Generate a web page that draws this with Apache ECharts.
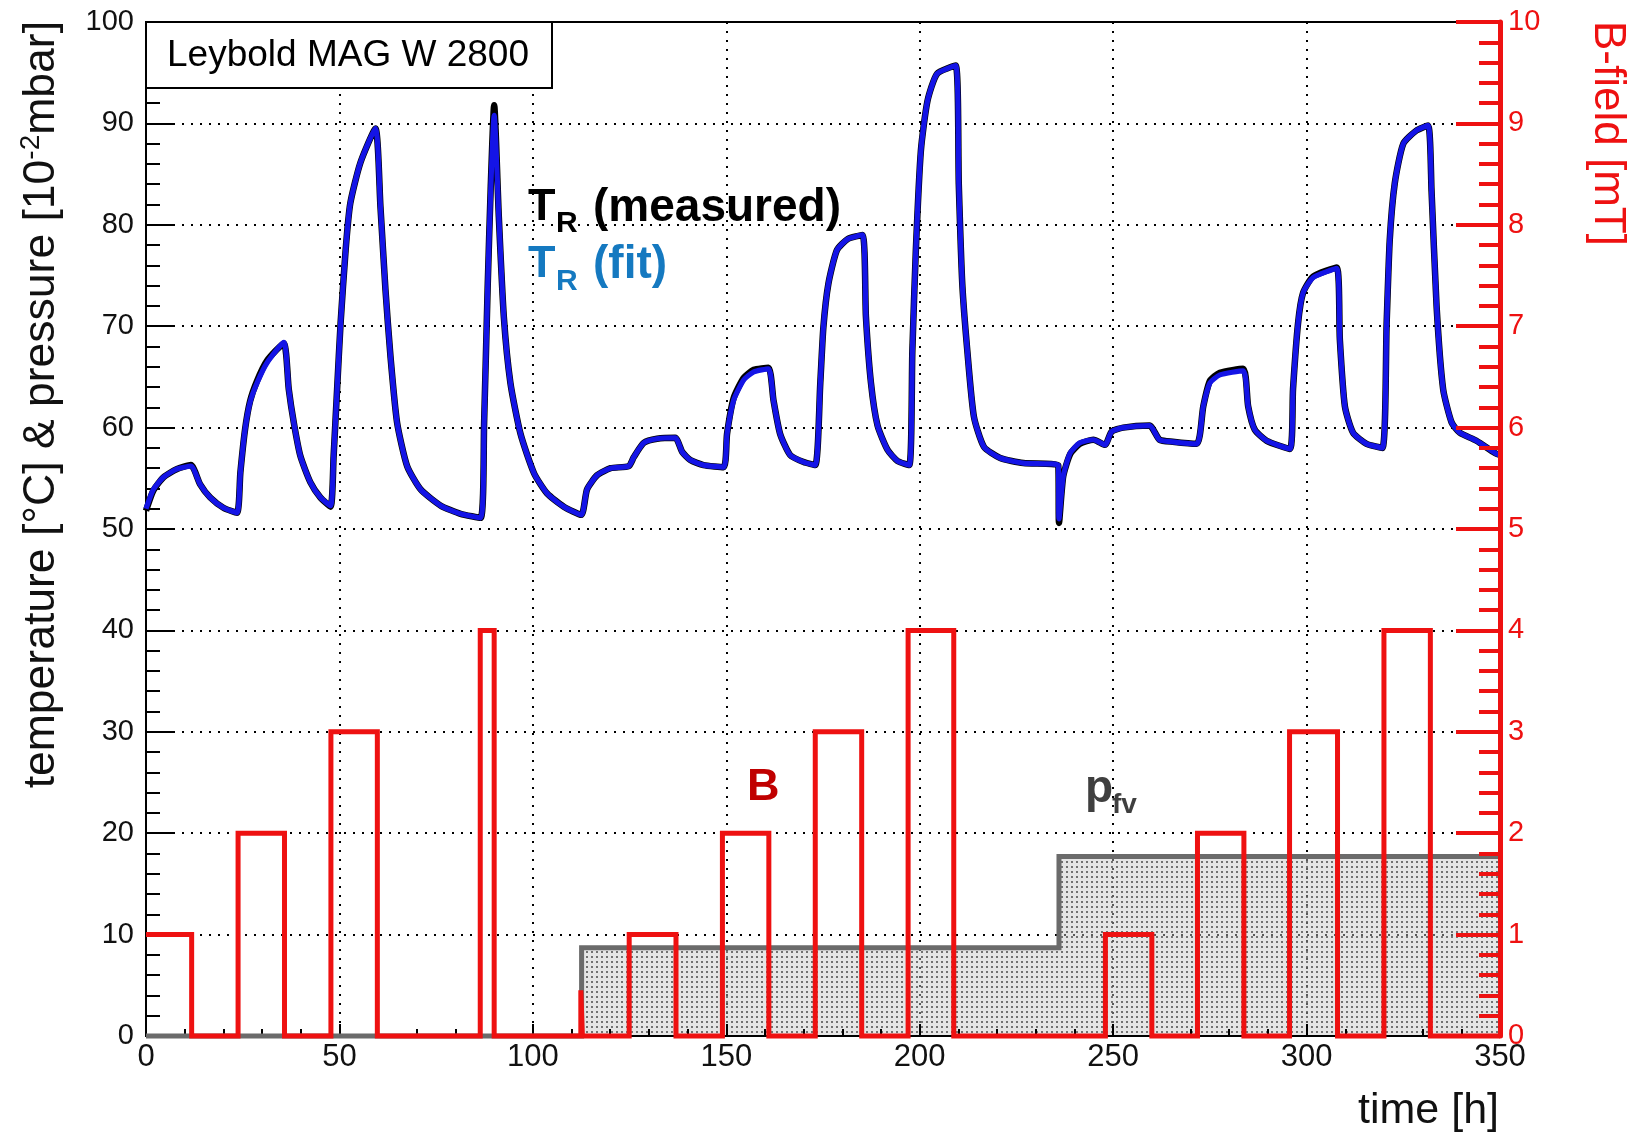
<!DOCTYPE html>
<html><head><meta charset="utf-8">
<script src="https://cdn.jsdelivr.net/npm/echarts@6/dist/echarts.min.js"></script>
<style>html,body{margin:0;padding:0;background:#fff}#c{width:1640px;height:1135px}</style>
</head><body><div id="c"></div>
<script>
// ---- data ----
const tempTime = [
  0, 1.9, 4.5, 7.9, 11.6, 14.0, 16.6, 20.0, 23.5, 24.4,
  25.6, 26.9, 28.7, 31.3, 35.6, 36.9, 38.2, 39.9, 42.5, 45.1,
  47.7, 48.5, 49.4, 50.3, 51.6, 52.8, 55.4, 59.3, 60.6, 61.9,
  63.2, 64.9, 67.5, 71.0, 76.2, 81.3, 86.5, 87.4, 88.3, 89.1,
  90.0, 91.2, 92.5, 94.2, 96.8, 100.3, 103.7, 108.0, 112.5, 114.0,
  116.6, 120.1, 124.8, 126.1, 128.7, 132.1, 136.8, 138.6, 140.7, 144.1,
  149.3, 150.2, 151.9, 154.5, 157.1, 160.9, 162.2, 163.9, 166.5, 170.0,
  173.0, 174.3, 175.1, 176.4, 178.6, 181.4, 185.2, 186.1, 187.4, 189.1,
  191.7, 194.3, 197.3, 198.1, 199.0, 200.3, 202.0, 204.5, 209.3, 210.1,
  211.0, 212.3, 214.0, 216.6, 220.8, 226.8, 235.8, 236.0, 237.1, 238.9,
  241.4, 244.9, 247.9, 249.6, 252.6, 259.4, 262.0, 265.4, 271.6, 273.3,
  275.0, 277.6, 283.6, 284.9, 286.6, 289.7, 295.7, 296.5, 297.8, 299.1,
  301.7, 307.8, 308.6, 309.9, 312.0, 315.5, 319.6, 320.7, 321.5, 322.8,
  325.0, 328.4, 331.4, 332.3, 333.6, 335.3, 337.5, 339.6, 343.9, 348.7,
  350.0];
const tempFit = [
  52.0, 53.9, 55.1, 55.9, 56.2, 54.4, 53.1, 52.1, 51.6, 55.6,
  59.8, 62.5, 64.4, 66.4, 68.4, 63.8, 60.5, 57.2, 54.6, 53.1,
  52.3, 57.2, 63.8, 70.3, 77.5, 82.1, 86.1, 89.5, 81.8, 73.6,
  67.0, 60.5, 56.2, 53.9, 52.3, 51.5, 51.1, 60.5, 73.6, 83.4,
  90.8, 80.8, 70.9, 64.4, 59.4, 55.5, 53.5, 52.2, 51.4, 53.9,
  55.3, 56.0, 56.2, 57.1, 58.5, 58.9, 59.0, 57.6, 56.8, 56.3,
  56.1, 59.4, 62.7, 64.7, 65.5, 65.8, 62.7, 59.4, 57.3, 56.6,
  56.3, 64.4, 69.9, 74.2, 77.5, 78.6, 79.0, 70.9, 64.4, 60.2,
  57.8, 56.7, 56.3, 67.6, 77.5, 87.3, 92.2, 94.9, 95.7, 84.0,
  74.2, 67.6, 61.1, 58.1, 57.0, 56.5, 56.3, 51.0, 55.2, 57.5,
  58.5, 58.8, 58.3, 59.6, 60.0, 60.2, 58.8, 58.6, 58.4, 62.1,
  64.4, 65.2, 65.6, 62.1, 59.8, 58.7, 57.9, 63.8, 70.3, 73.3,
  74.8, 75.7, 68.7, 62.1, 59.5, 58.4, 58.0, 70.3, 78.5, 84.1,
  88.0, 89.3, 89.8, 83.4, 72.0, 63.8, 60.5, 59.5, 58.7, 57.5,
  57.3];
const tempMeasured = [
  51.8, 53.8, 55.1, 55.9, 56.3, 54.4, 53.1, 52.1, 51.6, 55.6,
  59.8, 62.6, 64.6, 66.6, 68.3, 63.8, 60.5, 57.2, 54.6, 53.1,
  52.2, 57.2, 63.8, 70.3, 77.5, 82.1, 86.1, 89.5, 81.8, 73.6,
  67.0, 60.5, 56.2, 53.9, 52.3, 51.5, 51.1, 60.5, 73.6, 83.6,
  91.8, 80.8, 70.9, 64.4, 59.4, 55.5, 53.5, 52.2, 51.4, 53.9,
  55.3, 56.0, 56.2, 57.1, 58.5, 58.9, 59.0, 57.6, 56.8, 56.3,
  56.1, 59.4, 62.9, 64.9, 65.7, 65.9, 62.7, 59.4, 57.3, 56.6,
  56.3, 64.4, 69.9, 74.2, 77.5, 78.6, 79.0, 70.9, 64.4, 60.2,
  57.8, 56.7, 56.3, 67.6, 77.5, 87.3, 92.2, 94.9, 95.7, 84.0,
  74.2, 67.6, 61.1, 58.1, 57.0, 56.5, 56.3, 50.6, 55.2, 57.4,
  58.4, 58.8, 58.3, 59.6, 60.0, 60.2, 58.8, 58.6, 58.4, 62.1,
  64.6, 65.4, 65.8, 62.1, 59.8, 58.7, 57.9, 63.8, 70.3, 73.3,
  74.9, 75.8, 68.7, 62.1, 59.5, 58.4, 58.0, 70.3, 78.5, 84.1,
  88.0, 89.3, 89.8, 83.4, 72.0, 63.8, 60.5, 59.5, 58.7, 57.5,
  57.3];
// B-field steps [mT]: value holds from bTime[i] until bTime[i+1]
const bTime = [0, 11.8, 23.8, 35.8, 47.8, 59.8, 86.4, 90.0, 112.4, 112.8, 124.9, 137.0, 149.0, 161.0, 173.0, 185.0,
  197.0, 208.8, 248.0, 260.0, 271.8, 283.8, 295.6, 308.0, 320.0, 332.0, 350];
const bField = [1, 0, 2, 0, 3, 0, 4, 0, 0.45, 0, 1, 0, 2, 0, 3, 0, 4, 0, 1, 0, 2, 0, 3, 0, 4, 0, 0];
// fore-vacuum pressure steps [10^-2 mbar]
const pTime = [0, 112.6, 236.0, 350];
const pFv = [0, 8.7, 17.7, 17.7];

const FONT = "'Liberation Sans', Arial, Helvetica, sans-serif";
function pairs(xs, ys) { return xs.map((x, i) => [x, ys[i]]); }

// dotted fill pattern for the pressure area
const pat = document.createElement('canvas');
pat.width = 5; pat.height = 5;
const pc = pat.getContext('2d');
pc.fillStyle = 'rgba(200,200,200,0.45)';
pc.fillRect(0, 0, 5, 5);
pc.fillStyle = 'rgba(85,85,85,0.8)';
pc.fillRect(1, 1, 2, 2);

const dotted = { color: '#000', width: 2, type: [2, 7] };

const chart = echarts.init(document.getElementById('c'), null, { renderer: 'canvas' });
chart.setOption({
  animation: false,
  backgroundColor: '#fff',
  grid: { left: 146, right: 140, top: 22, bottom: 99, show: true, borderColor: '#000', borderWidth: 2, backgroundColor: 'transparent' },
  xAxis: {
    type: 'value', min: 0, max: 350, interval: 50,
    axisLine: { show: true, onZero: false, lineStyle: { color: '#000', width: 2 } },
    axisTick: { show: true, inside: true, length: 12, lineStyle: { color: '#000', width: 2 } },
    minorTick: { show: true, splitNumber: 5, length: 7, lineStyle: { color: '#000', width: 2 } },
    axisLabel: { fontSize: 31, color: '#111', margin: 6, fontFamily: FONT },
    splitLine: { show: true, lineStyle: dotted }
  },
  yAxis: [{
    type: 'value', min: 0, max: 100, interval: 10, position: 'left',
    axisLine: { show: true, lineStyle: { color: '#000', width: 2 } },
    axisTick: { show: true, inside: true, length: 28, lineStyle: { color: '#000', width: 2 } },
    minorTick: { show: true, splitNumber: 5, length: 14, lineStyle: { color: '#000', width: 2 } },
    axisLabel: { fontSize: 29, color: '#111', margin: 12, fontFamily: FONT },
    splitLine: { show: true, lineStyle: dotted }
  }, {
    type: 'value', min: 0, max: 10, interval: 1, position: 'right', zlevel: 1, z: 20,
    axisLine: { show: true, lineStyle: { color: '#ee1111', width: 5 } },
    axisTick: { show: true, inside: true, length: 44, lineStyle: { color: '#ee1111', width: 4 } },
    minorTick: { show: true, splitNumber: 5, length: 21, lineStyle: { color: '#ee1111', width: 4 } },
    axisLabel: { fontSize: 29, color: '#ee1111', margin: 8, fontFamily: FONT },
    splitLine: { show: false }
  }],
  series: [{
    name: 'p_fv', type: 'line', step: 'end', yAxisIndex: 0, data: pairs(pTime, pFv),
    showSymbol: false, symbol: 'none', clip: false, z: 0,
    lineStyle: { color: '#6b6b6b', width: 5, join: 'miter' },
    areaStyle: { color: { image: pat, repeat: 'repeat' }, opacity: 1 }
  }, {
    name: 'B', type: 'line', step: 'end', yAxisIndex: 1, data: pairs(bTime, bField),
    showSymbol: false, symbol: 'none', clip: false, z: 1,
    lineStyle: { color: '#ee1111', width: 5, join: 'miter' }
  }, {
    name: 'T_R measured', type: 'line', yAxisIndex: 0, data: pairs(tempTime, tempMeasured),
    showSymbol: false, symbol: 'none', z: 3, smooth: 0.2,
    lineStyle: { color: '#000', width: 6.5, join: 'round' }
  }, {
    name: 'T_R fit', type: 'line', yAxisIndex: 0, data: pairs(tempTime, tempFit),
    showSymbol: false, symbol: 'none', z: 4, smooth: 0.2,
    lineStyle: { color: '#1414e6', width: 5.2, join: 'round' }
  }],
  graphic: [
    { type: 'rect', z: 100, shape: { x: 146, y: 22, width: 406, height: 66 }, style: { fill: '#fff', stroke: '#000', lineWidth: 2 } },
    { type: 'text', z: 101, x: 167, y: 56, style: { text: 'Leybold MAG W 2800', font: '37px ' + FONT, fill: '#000', align: 'left', verticalAlign: 'middle' } },
    { type: 'text', z: 101, x: 42, y: 21, rotation: Math.PI / 2,
      style: { text: '{a|temperature [°C] & pressure [10}{s|-2}{a|mbar]}', align: 'right', verticalAlign: 'middle',
        rich: { a: { fontSize: 44.5, fontFamily: FONT, fill: '#111', lineHeight: 50 },
                s: { fontSize: 28, fontFamily: FONT, fill: '#111', lineHeight: 50, verticalAlign: 'top' } } } },
    { type: 'text', z: 101, x: 1607, y: 21, rotation: -Math.PI / 2,
      style: { text: 'B-field [mT]', font: '44px ' + FONT, fill: '#ee1111', align: 'left', verticalAlign: 'middle' } },
    { type: 'text', z: 101, x: 1499, y: 1111,
      style: { text: 'time [h]', font: '43px ' + FONT, fill: '#111', align: 'right', verticalAlign: 'middle' } },
    { type: 'text', z: 101, x: 528, y: 208, style: { text: 'T', font: 'bold 45px ' + FONT, fill: '#000', align: 'left', verticalAlign: 'middle' } },
    { type: 'text', z: 101, x: 556, y: 224, style: { text: 'R', font: 'bold 30px ' + FONT, fill: '#000', align: 'left', verticalAlign: 'middle' } },
    { type: 'text', z: 101, x: 593, y: 208, style: { text: '(measured)', font: 'bold 46px ' + FONT, fill: '#000', align: 'left', verticalAlign: 'middle' } },
    { type: 'text', z: 101, x: 528, y: 265, style: { text: 'T', font: 'bold 45px ' + FONT, fill: '#1579c0', align: 'left', verticalAlign: 'middle' } },
    { type: 'text', z: 101, x: 556, y: 282, style: { text: 'R', font: 'bold 30px ' + FONT, fill: '#1579c0', align: 'left', verticalAlign: 'middle' } },
    { type: 'text', z: 101, x: 593, y: 265, style: { text: '(fit)', font: 'bold 46px ' + FONT, fill: '#1579c0', align: 'left', verticalAlign: 'middle' } },
    { type: 'text', z: 101, x: 747, y: 788, style: { text: 'B', font: 'bold 45px ' + FONT, fill: '#c00000', align: 'left', verticalAlign: 'middle' } },
    { type: 'text', z: 101, x: 1085, y: 789, style: { text: 'p', font: 'bold 46px ' + FONT, fill: '#3f3f3f', align: 'left', verticalAlign: 'middle' } },
    { type: 'text', z: 101, x: 1112, y: 805, style: { text: 'fv', font: 'bold 28px ' + FONT, fill: '#3f3f3f', align: 'left', verticalAlign: 'middle' } }
  ]
});
</script>
</body></html>
